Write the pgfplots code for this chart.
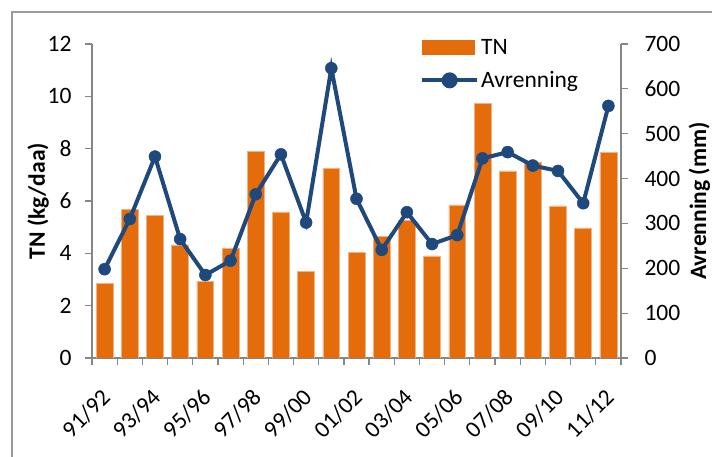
\documentclass[border=0pt]{standalone}
\usepackage{fontspec}
\setmainfont{Carlito}
\usepackage{pgfplots}
\pgfplotsset{compat=1.18}
\definecolor{tnorange}{HTML}{E46C0A}
\definecolor{tnedge}{HTML}{F4B183}
\definecolor{avblue}{HTML}{1F497D}
\definecolor{axgray}{HTML}{868686}
\definecolor{framegray}{HTML}{9A9A9A}
\newcommand{\fs}{\fontsize{23.5bp}{27bp}\selectfont}
\begin{document}
\begin{tikzpicture}
\useasboundingbox (0,0) rectangle (712bp,457bp);
\draw[framegray, line width=1.5bp] (12bp,-5bp) -- (12bp,445bp) -- (720bp,445bp);
\begin{axis}[
  at={(92bp,99bp)}, anchor=south west,
  width=529bp, height=314bp, scale only axis,
  xmin=-0.5, xmax=20.5, ymin=0, ymax=12,
  axis x line=bottom, axis y line=left,
  axis line style={axgray, line width=1.2bp, -},
  ytick={0,2,...,12},
  xtick={0,2,...,20},
  xticklabels={91/92,93/94,95/96,97/98,99/00,01/02,03/04,05/06,07/08,09/10,11/12},
  minor xtick={-0.5,0.5,...,20.5},
  tick align=outside,
  major tick length=7bp, minor tick length=7bp,
  tick style={axgray, line width=1.2bp},
  major x tick style={draw=none},
  yticklabel={\pgfmathprintnumber[assume math mode=true]{\tick}},
  yticklabel style={font=\fs, xshift=-10bp},
  xticklabel style={font=\fs, xshift=4bp, yshift=-26bp, rotate=45, anchor=east},
  ylabel={TN (kg/daa)},
  ylabel style={at={(axis description cs:-0.102,0.5)}, anchor=center, font=\fs\bfseries},
]
\addplot[ybar, bar width=0.67, fill=tnorange, draw=tnedge, line width=0.6bp] coordinates {
(0,2.85) (1,5.68) (2,5.46) (3,4.32) (4,2.93) (5,4.20) (6,7.89) (7,5.58) (8,3.32) (9,7.25)
(10,4.03) (11,4.64) (12,5.27) (13,3.90) (14,5.85) (15,9.73) (16,7.15) (17,7.49) (18,5.81)
(19,4.97) (20,7.87)};
\end{axis}
\begin{axis}[
  at={(92bp,99bp)}, anchor=south west,
  width=529bp, height=314bp, scale only axis,
  xmin=-0.5, xmax=20.5, ymin=0, ymax=700,
  axis x line=none, axis y line=right,
  axis line style={axgray, line width=1.2bp, -},
  ytick={0,100,...,700},
  tick align=outside,
  major tick length=7bp,
  tick style={axgray, line width=1.2bp},
  yticklabel={\pgfmathprintnumber[assume math mode=true]{\tick}},
  yticklabel style={font=\fs, xshift=13bp},
  ylabel={Avrenning (mm)},
  ylabel style={at={(axis description cs:1.148,0.5)}, anchor=center, font=\fs\bfseries},
  legend style={at={(axis description cs:0.62,1.023)}, anchor=north west, draw=none, fill=none,
    font=\fs, row sep=12bp, inner sep=0pt, cells={anchor=west}},
]
\addlegendimage{legend image code/.code={\fill[tnorange] (0bp,-7bp) rectangle (52bp,7bp);}}
\addlegendentry{TN}
\addplot[avblue, line width=4bp, mark=*, mark size=6bp,
  mark options={fill=avblue, draw=avblue, line width=0.5bp},
  legend image code/.code={\draw[avblue, line width=4bp] (0bp,0bp) -- (55bp,0bp);
    \fill[avblue] (27.5bp,0bp) circle (6bp);}] coordinates {
(0,198) (1,310) (2,449) (3,265) (4,185) (5,217) (6,365) (7,454) (8,302) (9,646)
(10,355) (11,241) (12,325) (13,254) (14,274) (15,445) (16,459) (17,429) (18,417)
(19,345) (20,562)};
\addlegendentry{Avrenning}
\end{axis}
\end{tikzpicture}
\end{document}
